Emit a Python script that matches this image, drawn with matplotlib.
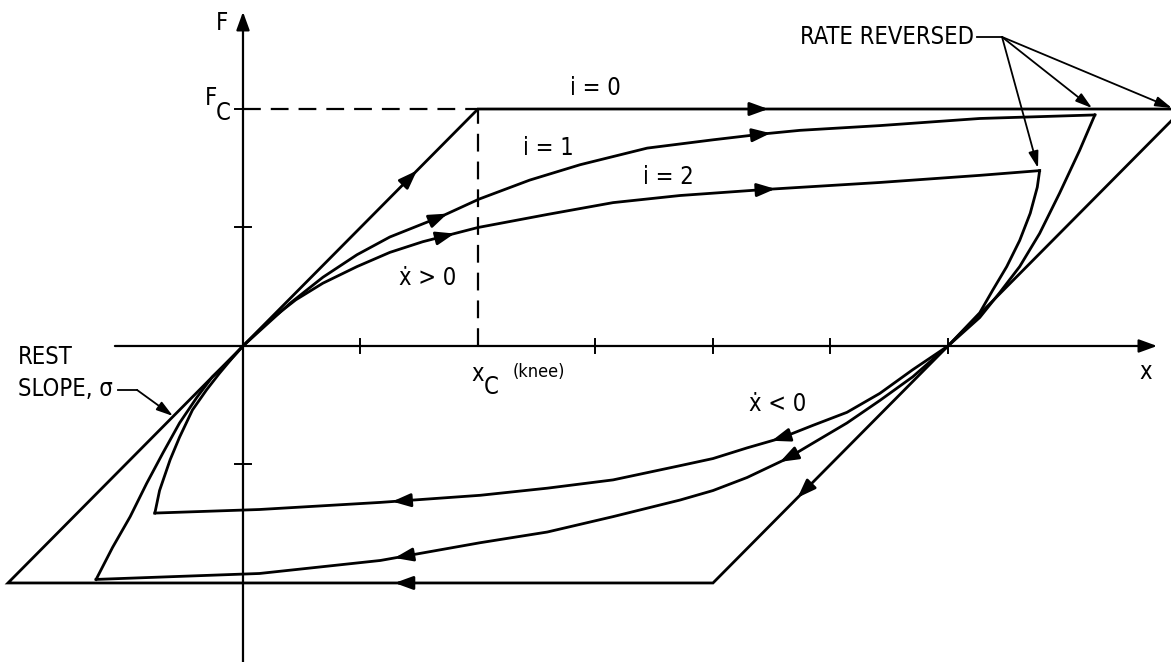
import matplotlib
matplotlib.use('Agg')
import matplotlib.pyplot as plt
import numpy as np

plt.rcParams['font.family'] = ['DejaVu Sans']
plt.rcParams['font.stretch'] = 'condensed'

# units: one tick = 1, F_C = 2, x_C = 2

# i = 0 : rest slope up to F_C, then sliding
i0_x = [0, 2, 8, 4, -2, 0]
i0_f = [0, 2, 2, -2, -2, 0]

# i = 1, x_dot > 0 branch (from lower reversal through origin to upper reversal)
i1_up_x = [-1.25, -1.11, -0.96, -0.82, -0.68, -0.54, -0.39, -0.26, -0.11, 0.0,
           0.40, 0.68, 0.97, 1.25, 1.68, 2.01, 2.44, 2.87, 3.44, 4.00, 4.43,
           4.74, 5.42, 6.27, 7.25]
i1_up_f = [-1.97, -1.70, -1.44, -1.16, -0.90, -0.65, -0.43, -0.26, -0.12, 0.0,
           0.36, 0.58, 0.77, 0.92, 1.09, 1.24, 1.40, 1.53, 1.67, 1.74, 1.79,
           1.82, 1.86, 1.92, 1.95]
# i = 1, x_dot < 0 branch
i1_dn_x = [7.25, 7.12, 6.95, 6.78, 6.61, 6.44, 6.27, 6.0, 5.70, 5.42, 5.14,
           4.85, 4.63, 4.29, 4.00, 3.72, 3.15, 2.59, 2.02, 1.17, 0.14, -1.25]
i1_dn_f = [1.95, 1.65, 1.29, 0.95, 0.67, 0.45, 0.24, 0.0, -0.26, -0.46, -0.65,
           -0.82, -0.95, -1.11, -1.22, -1.30, -1.44, -1.57, -1.66, -1.81, -1.92, -1.97]

# i = 2, x_dot > 0 branch
i2_up_x = [-0.75, -0.71, -0.62, -0.54, -0.43, -0.31, -0.20, -0.09, 0.0, 0.23,
           0.45, 0.68, 0.97, 1.25, 1.53, 2.00, 2.59, 3.15, 3.72, 4.43, 5.42,
           6.27, 6.78]
i2_up_f = [-1.41, -1.22, -0.96, -0.77, -0.54, -0.37, -0.23, -0.10, 0.0, 0.22,
           0.39, 0.53, 0.67, 0.79, 0.88, 1.00, 1.11, 1.21, 1.27, 1.32, 1.38,
           1.44, 1.48]
# i = 2, x_dot < 0 branch
i2_dn_x = [6.78, 6.76, 6.70, 6.61, 6.50, 6.38, 6.27, 6.0, 5.70, 5.42, 5.14,
           4.85, 4.57, 4.29, 4.00, 3.72, 3.15, 2.59, 2.02, 1.17, 0.14, -0.75]
i2_dn_f = [1.48, 1.34, 1.12, 0.89, 0.67, 0.47, 0.28, 0.0, -0.20, -0.40, -0.56,
           -0.67, -0.78, -0.86, -0.95, -1.01, -1.13, -1.20, -1.26, -1.32, -1.38, -1.41]

x_ticks = [1, 2, 3, 4, 5, 6]
f_ticks = [-1, 1, 2]
x_c, f_c = 2, 2

fig = plt.figure(figsize=(11.71, 6.62), dpi=100)
ax = fig.add_axes([0, 0, 1, 1])
ax.set_xlim(-2.068, 7.898)
ax.set_ylim(-2.667, 2.92)
ax.axis('off')

lw = 2.0
ax.plot(i0_x, i0_f, color='black', lw=lw, solid_joinstyle='miter')
for xs, fs in [(i1_up_x, i1_up_f), (i1_dn_x, i1_dn_f),
               (i2_up_x, i2_up_f), (i2_dn_x, i2_dn_f)]:
    ax.plot(xs, fs, color='black', lw=lw, solid_joinstyle='miter')

# axes with arrow heads
head = '-|>,head_length=0.55,head_width=0.2'
ax.annotate('', xy=(7.78, 0), xytext=(-1.09, 0),
            arrowprops=dict(arrowstyle=head, color='black', lw=1.6,
                            mutation_scale=20, shrinkA=0, shrinkB=0))
ax.annotate('', xy=(0, 2.82), xytext=(0, -2.7), annotation_clip=False,
            arrowprops=dict(arrowstyle=head, color='black', lw=1.6,
                            mutation_scale=20, shrinkA=0, shrinkB=0))
for t in x_ticks:
    ax.plot([t, t], [-0.06 if t != x_c else 0, 0.06], color='black', lw=1.4)
for t in f_ticks:
    ax.plot([-0.068, 0.068 if t != f_c else 0], [t, t], color='black', lw=1.4)

# F_C and x_C guide lines
ax.plot([0, x_c], [f_c, f_c], color='black', lw=1.6, dashes=(8, 4.5))
ax.plot([x_c, x_c], [0, f_c], color='black', lw=1.6, dashes=(8, 4.5))


def arrow_on(xs, fs, x_tip, dx):
    xs = np.asarray(xs, float)
    fs = np.asarray(fs, float)
    order = np.argsort(xs)
    f_tip = np.interp(x_tip, xs[order], fs[order])
    f_tail = np.interp(x_tip - dx, xs[order], fs[order])
    ax.annotate('', xy=(x_tip, f_tip), xytext=(x_tip - dx, f_tail),
                arrowprops=dict(arrowstyle=head, color='black', lw=lw,
                                mutation_scale=20, shrinkA=0, shrinkB=0))


arrow_on([0, 2], [0, 2], 1.48, 0.1)
arrow_on([2, 8], [2, 2], 4.47, 0.1)
arrow_on([4, 8], [-2, 2], 4.72, -0.1)
arrow_on([-2, 4], [-2, -2], 1.29, -0.1)
arrow_on(i1_up_x, i1_up_f, 1.74, 0.1)
arrow_on(i1_up_x, i1_up_f, 4.49, 0.1)
arrow_on(i2_up_x, i2_up_f, 1.80, 0.1)
arrow_on(i2_up_x, i2_up_f, 4.53, 0.1)
arrow_on(i1_dn_x, i1_dn_f, 4.57, -0.1)
arrow_on(i1_dn_x, i1_dn_f, 1.29, -0.1)
arrow_on(i2_dn_x, i2_dn_f, 4.50, -0.1)
arrow_on(i2_dn_x, i2_dn_f, 1.27, -0.1)

fs_main = 17
txt = dict(color='black', fontsize=fs_main, ha='center', va='center')
ax.text(-0.18, 2.73, 'F', **txt)
ax.text(-0.27, 2.09, 'F', **txt)
ax.text(-0.17, 1.97, 'C', **txt)
ax.text(3.0, 2.18, 'i = 0', **txt)
ax.text(2.60, 1.67, 'i = 1', **txt)
ax.text(3.62, 1.43, 'i = 2', **txt)
ax.text(1.57, 0.57, '\u1e8b > 0', **txt)
ax.text(4.55, -0.49, '\u1e8b < 0', **txt)
ax.text(7.68, -0.22, 'x', **txt)
ax.text(2.0, -0.24, 'x', **txt)
ax.text(2.11, -0.35, 'C', **txt)
ax.text(2.52, -0.22, '(knee)', color='black', fontsize=13, ha='center', va='center')

ax.text(6.22, 2.61, 'RATE REVERSED', color='black', fontsize=fs_main,
        ha='right', va='center')
ax.plot([6.25, 6.46], [2.608, 2.608], color='black', lw=1.3)
for tip in [(7.906, 2.008), (7.226, 2.008), (6.766, 1.502)]:
    ax.annotate('', xy=tip, xytext=(6.46, 2.608), annotation_clip=False,
                arrowprops=dict(arrowstyle='-|>,head_length=0.5,head_width=0.15',
                                color='black', lw=1.3, mutation_scale=20,
                                shrinkA=0, shrinkB=0))

ax.text(-1.915, -0.09, 'REST', color='black', fontsize=fs_main, ha='left', va='center')
ax.text(-1.915, -0.36, 'SLOPE, \u03c3', color='black', fontsize=fs_main, ha='left', va='center')
ax.plot([-1.064, -0.902], [-0.371, -0.371], color='black', lw=1.3)
ax.annotate('', xy=(-0.596, -0.591), xytext=(-0.902, -0.371),
            arrowprops=dict(arrowstyle='-|>,head_length=0.5,head_width=0.15',
                            color='black', lw=1.3, mutation_scale=20,
                            shrinkA=0, shrinkB=0))

fig.savefig('out.png', dpi=100, facecolor='white')
